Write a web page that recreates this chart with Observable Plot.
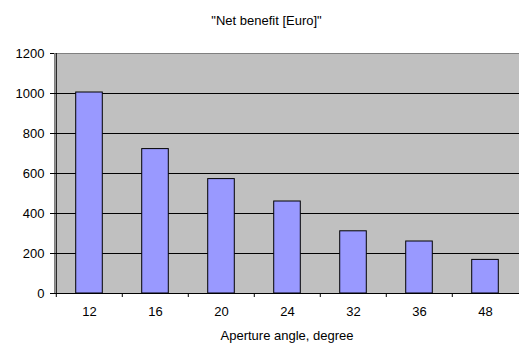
<!DOCTYPE html>
<html><head><meta charset="utf-8">
<script src="https://cdn.jsdelivr.net/npm/d3@7"></script>
<script src="https://cdn.jsdelivr.net/npm/@observablehq/plot@0.6"></script>
<style>
body{margin:0;background:#fff;font-family:"Liberation Sans",Arial,sans-serif;}
#title{height:37px;box-sizing:border-box;padding-top:13px;line-height:16px;font-size:13px;text-align:center;width:533px;color:#000;}
</style></head><body>
<div id="title">"Net benefit [Euro]"</div>
<div id="chart"></div>
<script>
const angles = ["12","16","20","24","32","36","48"];
const netBenefit = [1005,722,572,460,311,260,168];
const yTicks = [0,200,400,600,800,1000,1200];
const xLabel = "Aperture angle, degree";
const data = angles.map((a,i)=>({angle:a, value:netBenefit[i]}));
const W=519, ML=54, MR=0;
const step=(W-ML-MR)/angles.length;
const barW=27;
const inset=(step-barW)/2;
const plot = Plot.plot({
 width:519, height:307, marginTop:16, marginBottom:51, marginLeft:54, marginRight:0,
 style:{fontFamily:'"Liberation Sans", Arial, sans-serif', fontSize:"13px", background:"white", color:"black", overflow:"visible"},
 x:{type:"band", domain:angles, padding:0},
 y:{domain:[0,1200]},
 marks:[
  Plot.frame({fill:"#c0c0c0", stroke:"#808080"}),
  Plot.gridY(yTicks.slice(1,-1), {stroke:"#000", strokeOpacity:1}),
  Plot.barY(data,{x:"angle", y:"value", fill:"#9999ff", stroke:"#000", insetLeft:inset, insetRight:inset}),
  Plot.ruleY([0],{stroke:"#000"}),
  Plot.ruleX([angles[0]],{dx:-step/2, stroke:"#000"}),
  Plot.axisY({ticks:yTicks, tickSize:4, tickPadding:6, tickFormat:d3.format("d"), label:null}),
  Plot.axisX({tickSize:4, tickFormat:()=>"", dx:-step/2, label:null}),
  Plot.axisX({tickSize:0, tickPadding:13, label:xLabel, labelAnchor:"center", labelOffset:46, labelArrow:"none"})
 ]
});
document.getElementById("chart").appendChild(plot);
</script>
</body></html>
